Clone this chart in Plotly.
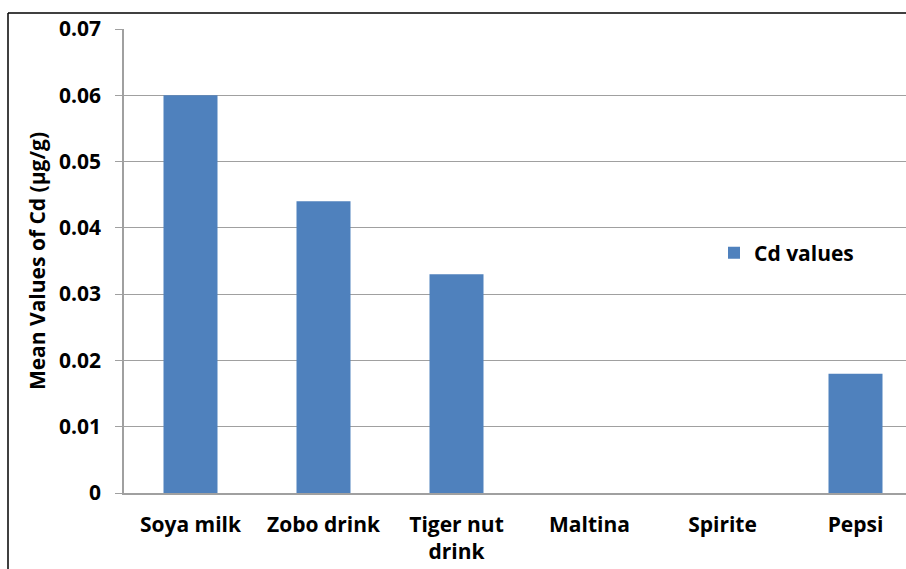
import plotly.graph_objects as go

categories = ["Soya milk", "Zobo drink", "Tiger nut<br>drink", "Maltina", "Spirite", "Pepsi"]
cd_values = [0.060, 0.044, 0.033, 0.0, 0.0, 0.018]
series_name = "Cd values"
y_tickvals = [0, 0.01, 0.02, 0.03, 0.04, 0.05, 0.06, 0.07]
y_ticktext = ["0", "0.01", "0.02", "0.03", "0.04", "0.05", "0.06", "0.07"]

W, H = 906, 569
ml, mr, mt, mb = 124, 0, 29, 76
pw, ph = W - ml - mr, H - mt - mb

FAM = "Open Sans, Noto Sans, sans-serif"
FS = 21
font = dict(family=FAM, size=FS, color="black")

fig = go.Figure()
fig.add_trace(go.Bar(
    x=list(range(len(categories))), y=cd_values, name=series_name,
    marker=dict(color="#4F81BD", line=dict(width=0)), width=0.406,
    showlegend=True,
))

step = 133.0
fig.update_layout(
    width=W, height=H,
    margin=dict(l=ml, r=mr, t=mt, b=mb, pad=0),
    paper_bgcolor="white", plot_bgcolor="white",
    font=font,
    showlegend=True,
    legend=dict(x=(714 - ml) / pw, y=(493 - 253) / ph, xanchor="left", yanchor="middle",
                font=dict(family=FAM, size=FS, color="black"),
                bgcolor="rgba(0,0,0,0)"),
    xaxis=dict(
        range=[-0.5, -0.5 + pw / step],
        tickvals=list(range(len(categories))), ticktext=[f"<b>{c}</b>" for c in categories],
        showgrid=False, zeroline=False, showline=True, linecolor="#a0a0a0", linewidth=1.5,
        ticks="", ticklabelstandoff=12,
        tickfont=dict(family=FAM, size=FS, color="black"),
    ),
    yaxis=dict(
        range=[0, 0.07], tickvals=y_tickvals, ticktext=[f"<b>{t}</b>" for t in y_ticktext],
        showgrid=True, gridcolor="#a0a0a0", gridwidth=1,
        zeroline=False, showline=True, linecolor="#a0a0a0", linewidth=1.5,
        ticks="outside", ticklen=7, tickcolor="#a0a0a0", ticklabelstandoff=10,
        tickfont=dict(family=FAM, size=FS, color="black"),
        title=dict(text="<b>Mean Values of Cd (µg/g)</b>", standoff=8,
                   font=dict(family=FAM, size=FS, color="black")),
    ),
)
fig.update_traces(name=f"<b>{series_name}</b>")

bx = (8 - ml) / pw
by = 1 + (mt - 13) / ph
fig.add_shape(type="line", xref="paper", yref="paper", x0=bx, y0=by, x1=1.05, y1=by,
              line=dict(color="black", width=1.5))
fig.add_shape(type="line", xref="paper", yref="paper", x0=bx, y0=by, x1=bx, y1=-0.3,
              line=dict(color="black", width=1.5))

fig.write_html("out.html")
